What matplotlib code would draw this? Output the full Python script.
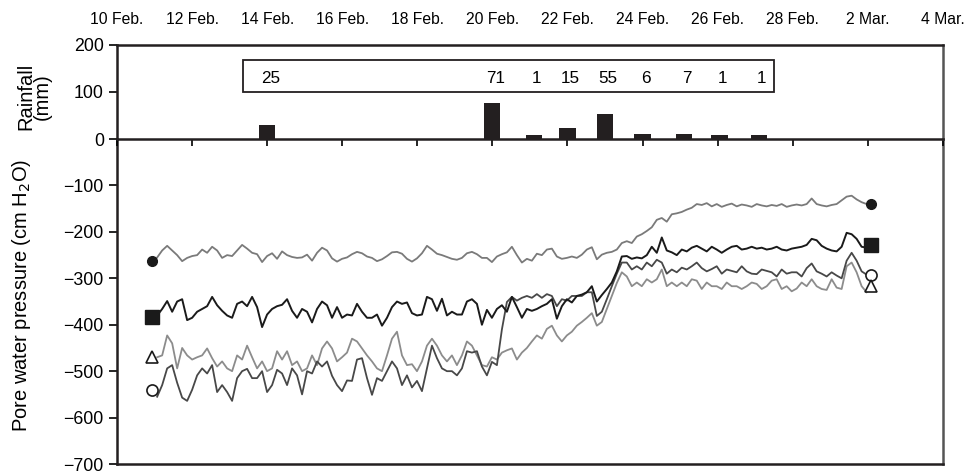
import numpy as np
import matplotlib.pyplot as plt
from matplotlib.patches import Rectangle

plt.rcParams['font.family'] = ['Liberation Sans', 'DejaVu Sans']
plt.rcParams['font.size'] = 11

# date axis, day numbers counted from 1 Feb (10 Feb .. 4 Mar)
tick_days = [10, 12, 14, 16, 18, 20, 22, 24, 26, 28, 30, 32]
tick_labels = ['10 Feb.', '12 Feb.', '14 Feb.', '16 Feb.', '18 Feb.', '20 Feb.',
               '22 Feb.', '24 Feb.', '26 Feb.', '28 Feb.', '2 Mar.', '4 Mar.']

# rainfall
rain_days = [14, 20, 21.1, 22, 23, 24, 25.1, 26.05, 27.1]
rain_bar = [30, 77, 8, 24, 54, 10, 10, 8, 8]
rain_text = ['25', '71', '1', '15', '55', '6', '7', '1', '1']

# pore water pressure records (cm H2O), 11.07 Feb -> 29.97 Feb equally spaced
t_start, t_end = 11.07, 29.97

p_a = [-255, -240, -230, -240, -250, -263, -256, -252, -250, -238, -245, -232, -240, -256,
       -250, -252, -240, -228, -236, -245, -248, -265, -252, -246, -258, -242, -250, -254,
       -256, -255, -249, -262, -245, -234, -240, -257, -264, -258, -255, -248, -243, -246,
       -253, -256, -263, -259, -252, -244, -243, -247, -258, -264, -257, -246, -230, -238,
       -247, -250, -254, -258, -260, -256, -246, -243, -248, -256, -256, -265, -253, -248,
       -244, -232, -250, -266, -258, -262, -247, -250, -238, -236, -253, -258, -256, -253,
       -256, -249, -238, -233, -259, -249, -245, -243, -238, -224, -220, -224, -210, -205,
       -198, -190, -174, -170, -178, -162, -160, -157, -152, -148, -140, -142, -138, -145,
       -140, -146, -142, -139, -145, -141, -143, -146, -140, -143, -145, -142, -144, -140,
       -146, -143, -141, -143, -140, -128, -140, -143, -145, -142, -140, -132, -124, -122,
       -130, -136, -140]

p_b = [-380, -366, -349, -372, -350, -345, -390, -385, -372, -366, -360, -340, -358, -370,
       -380, -385, -355, -350, -360, -340, -362, -405, -378, -366, -360, -357, -345, -370,
       -385, -366, -372, -395, -366, -350, -358, -385, -362, -385, -378, -380, -355, -372,
       -385, -385, -378, -402, -385, -362, -350, -355, -352, -375, -380, -378, -340, -345,
       -370, -344, -380, -372, -378, -378, -350, -345, -355, -400, -368, -385, -366, -358,
       -372, -340, -362, -385, -366, -370, -366, -360, -355, -345, -387, -360, -345, -352,
       -338, -335, -330, -317, -350, -336, -323, -309, -285, -253, -252, -258, -255, -257,
       -250, -232, -245, -212, -240, -244, -250, -238, -242, -234, -230, -236, -242, -232,
       -238, -245, -238, -232, -230, -238, -236, -232, -236, -234, -238, -236, -232, -238,
       -240, -236, -234, -232, -228, -215, -218, -230, -236, -240, -242, -232, -202, -205,
       -215, -232, -234]

p_c = [-555, -530, -494, -487, -525, -557, -564, -540, -509, -494, -505, -487, -545, -530,
       -545, -564, -515, -500, -495, -515, -515, -500, -545, -530, -497, -505, -530, -494,
       -509, -550, -500, -505, -479, -490, -479, -510, -530, -543, -520, -521, -475, -472,
       -515, -551, -515, -521, -500, -479, -494, -530, -509, -535, -521, -543, -494, -445,
       -472, -494, -500, -500, -509, -494, -457, -460, -457, -490, -509, -480, -487, -410,
       -351, -340, -348, -342, -338, -342, -334, -342, -334, -338, -360, -345, -348, -338,
       -338, -338, -330, -330, -381, -372, -345, -317, -290, -266, -266, -281, -274, -281,
       -266, -274, -260, -266, -290, -281, -287, -277, -281, -274, -266, -278, -285, -280,
       -274, -290, -281, -284, -287, -274, -285, -290, -291, -281, -284, -287, -296, -281,
       -290, -287, -287, -296, -278, -268, -285, -290, -296, -287, -294, -300, -262, -245,
       -262, -285, -292]

p_d = [-470, -466, -423, -440, -494, -450, -466, -475, -470, -466, -451, -472, -490, -479,
       -494, -500, -466, -475, -445, -470, -494, -479, -500, -494, -457, -475, -457, -487,
       -479, -500, -494, -466, -487, -451, -436, -451, -479, -470, -460, -430, -436, -451,
       -466, -479, -494, -500, -466, -430, -415, -466, -487, -485, -500, -479, -445, -430,
       -445, -466, -479, -466, -487, -466, -436, -445, -466, -487, -490, -470, -475, -460,
       -455, -451, -475, -460, -450, -436, -423, -430, -409, -402, -423, -436, -423, -415,
       -402, -394, -385, -375, -402, -394, -366, -338, -310, -287, -296, -317, -309, -317,
       -302, -309, -302, -281, -317, -309, -317, -309, -317, -302, -305, -323, -309, -317,
       -317, -323, -309, -317, -317, -323, -317, -309, -312, -323, -317, -305, -302, -323,
       -317, -328, -322, -309, -317, -302, -317, -323, -325, -302, -320, -323, -274, -266,
       -287, -317, -330]

# end point symbols (start value, end value)
mark_a = [-262, -140]
mark_b = [-383, -229]
mark_c = [-540, -293]
mark_d = [-470, -316]

fig = plt.figure(figsize=(9.67, 4.73), dpi=100)
ax1 = fig.add_axes([0.121, 0.706, 0.854, 0.199])
ax2 = fig.add_axes([0.121, 0.019, 0.854, 0.687])
ax1.set_zorder(3)
ax1.patch.set_visible(False)

# rainfall panel
ax1.bar(rain_days, rain_bar, width=0.43, color='#231f20')
ax1.add_patch(Rectangle((13.36, 99), 27.49 - 13.36, 69, fill=False, ec='#231f20', lw=1.3))
for d, s in zip(rain_days, rain_text):
    ax1.text(d + 0.08, 129, s, ha='center', va='center', fontsize=12.3)
ax1.set_xlim(10, 32)
ax1.set_ylim(0, 200)
ax1.set_yticks([0, 100, 200])
ax1.set_ylabel('Rainfall\n(mm)', fontsize=14.5, linespacing=0.85)
ax1.yaxis.set_label_coords(-0.079, 0.45)
ax1.set_xticks(tick_days)
ax1.set_xticklabels(tick_labels)
ax1.xaxis.set_ticks_position('bottom')
ax1.tick_params(axis='x', labeltop=True, labelbottom=False, direction='out',
                length=5, width=1.2, pad=8, labelsize=11.3)
ax1.tick_params(axis='y', length=6, width=1.2, labelsize=12.8)
for sp in ax1.spines.values():
    sp.set_linewidth(1.8)
    sp.set_color('#231f20')
ax1.spines['right'].set_color('#555555')

# pore water pressure panel
t = np.linspace(t_start, t_end, len(p_a))
ax2.plot(t, p_a, color='#7a7a7a', lw=1.3)
ax2.plot(t, p_d, color='#8c8c8c', lw=1.3)
ax2.plot(t, p_c, color='#484848', lw=1.3)
ax2.plot(t, p_b, color='#1a1a1a', lw=1.4)

ends = [10.93, 30.08]
ax2.plot(ends, mark_a, ls='none', marker='o', ms=7, color='#1a1a1a')
ax2.plot(ends, mark_b, ls='none', marker='s', ms=10, color='#1a1a1a')
ax2.plot(ends, mark_c, ls='none', marker='o', ms=8, mfc='white', mec='#1a1a1a', mew=1.2)
ax2.plot(ends, mark_d, ls='none', marker='^', ms=8, mfc='white', mec='#1a1a1a', mew=1.2)

ax2.set_xlim(10, 32)
ax2.set_ylim(-700, 0)
ax2.set_yticks([-700, -600, -500, -400, -300, -200, -100])
ax2.set_xticks([])
ax2.tick_params(axis='y', length=6, width=1.2, labelsize=12.8)
ax2.set_ylabel('Pore water pressure (cm H$_2$O)', fontsize=14.5)
ax2.yaxis.set_label_coords(-0.102, 0.52)
for sp in ax2.spines.values():
    sp.set_linewidth(1.8)
    sp.set_color('#231f20')
ax2.spines['top'].set_visible(False)
ax2.spines['right'].set_color('#555555')

fig.savefig('out.png', dpi=100)
